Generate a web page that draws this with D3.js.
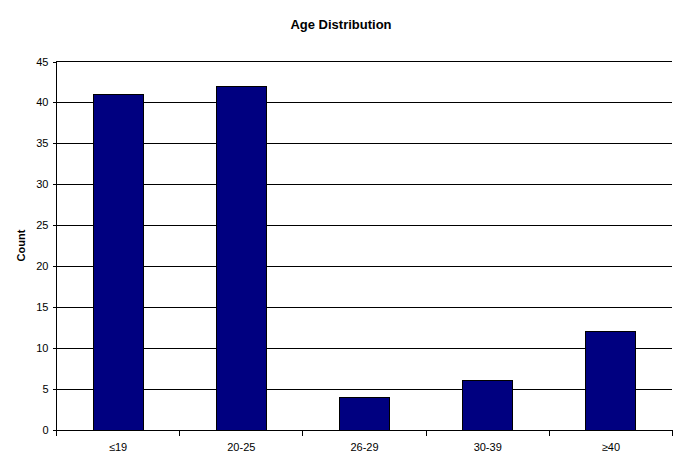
<!DOCTYPE html>
<html><head><meta charset="utf-8">
<script src="https://cdn.jsdelivr.net/npm/d3@7"></script>
<style>body{margin:0;background:#fff}svg{display:block}</style>
</head><body>
<script>
const categories = ["≤19", "20-25", "26-29", "30-39", "≥40"];
const counts = [41, 42, 4, 6, 12];
const yTicks = [0, 5, 10, 15, 20, 25, 30, 35, 40, 45];
const title = "Age Distribution";
const yTitle = "Count";

const W = 683, H = 467;
const m = {left: 56, right: 11, top: 61, bottom: 37.5};
const svg = d3.select("body").append("svg").attr("width", W).attr("height", H);
const font = "Arial, 'Liberation Sans', sans-serif";

const x = d3.scaleBand().domain(categories).range([m.left, W - m.right]).paddingInner(0.594).paddingOuter(0.297);
const xb = d3.scaleBand().domain(categories).range([m.left, W - m.right]);
const y = d3.scaleLinear().domain([0, 45]).range([H - m.bottom, m.top]);

// gridlines
svg.append("g").selectAll("line").data(yTicks.filter(d => d > 0)).join("line")
  .attr("x1", m.left).attr("x2", W - m.right)
  .attr("y1", d => Math.round(y(d)) + 0.5).attr("y2", d => Math.round(y(d)) + 0.5)
  .attr("stroke", "#000").attr("stroke-width", 1).attr("shape-rendering", "crispEdges");

// bars
svg.append("g").selectAll("rect").data(counts).join("rect")
  .attr("x", (d, i) => Math.round(x(categories[i])) + 0.5)
  .attr("y", d => Math.round(y(d)) + 0.5)
  .attr("width", Math.round(x.bandwidth()))
  .attr("height", d => Math.round(y(0)) - Math.round(y(d)))
  .attr("fill", "#000080").attr("stroke", "#000").attr("stroke-width", 1)
  .attr("shape-rendering", "crispEdges");

// y axis
const yAxis = d3.axisLeft(y).tickValues(yTicks).tickSize(4).tickPadding(4);
const gy = svg.append("g").attr("transform", `translate(${m.left + 0.5},0.5)`).call(yAxis);
gy.selectAll("text").attr("font-family", font).attr("font-size", 11).attr("fill", "#000");
gy.selectAll("line,path").attr("stroke", "#000").attr("shape-rendering", "crispEdges");
gy.select(".domain").attr("d", `M0,${m.top}V${H - m.bottom}`);

// x axis
const gx = svg.append("g").attr("transform", `translate(0.5,${Math.round(y(0)) + 0.5})`)
  .call(d3.axisBottom(xb).tickSize(0).tickPadding(13));
gx.selectAll("text").attr("font-family", font).attr("font-size", 11).attr("fill", "#000");
gx.select(".domain").attr("stroke", "#000").attr("d", `M${m.left},0H${W - m.right}`).attr("shape-rendering", "crispEdges");
const bounds = categories.map(c => xb(c)).concat([W - m.right]);
gx.append("g").selectAll("line").data(bounds).join("line")
  .attr("x1", d => Math.round(d)).attr("x2", d => Math.round(d))
  .attr("y1", 0).attr("y2", 5).attr("stroke", "#000").attr("shape-rendering", "crispEdges");

// titles
svg.append("text").attr("x", 341).attr("y", 29).attr("text-anchor", "middle")
  .attr("font-family", font).attr("font-weight", "bold").attr("font-size", 13).text(title);
svg.append("text").attr("transform", `translate(25,245.5) rotate(-90)`).attr("text-anchor", "middle")
  .attr("font-family", font).attr("font-weight", "bold").attr("font-size", 11).text(yTitle);
</script>
</body></html>
